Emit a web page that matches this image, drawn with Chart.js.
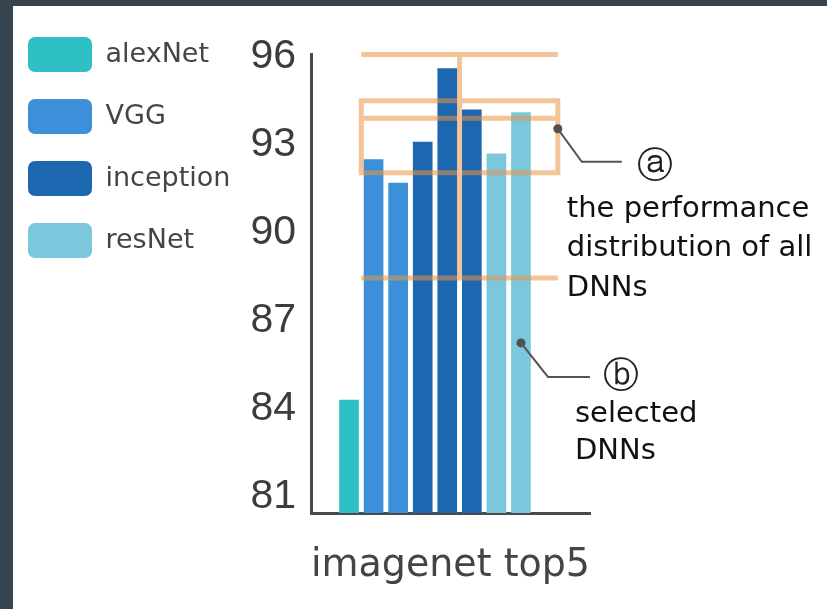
<!DOCTYPE html>
<html><head><meta charset="utf-8">
<script src="https://cdn.jsdelivr.net/npm/chart.js@4/dist/chart.umd.min.js"></script>
<style>
html,body{margin:0;padding:0;background:#36454f;width:827px;height:609px;overflow:hidden}
#wrap{position:absolute;left:13px;top:6px;width:814px;height:603px;background:#fff}
canvas{display:block}
</style></head><body>
<div id="wrap"><canvas id="c" width="814" height="603"></canvas></div>
<script>
// ---- data ----
const seriesNames = ['alexNet', 'VGG', 'inception', 'resNet'];
const alexNetTop5 = [84.3];
const vggTop5 = [92.5, 91.7];
const inceptionTop5 = [93.1, 95.6, 94.2];
const resNetTop5 = [92.7, 94.1];
const yTicks = [81, 84, 87, 90, 93, 96];
const axisTitle = 'imagenet top5';
// performance distribution of all DNNs: [min, q1, median, q3, max]
const allDnnDistribution = [88.46, 92.05, 93.91, 94.51, 96.08];
const noteAText = ['the performance', 'distribution of all', 'DNNs'];
const noteBText = ['selected', 'DNNs'];

// ---- build ----
const groups = [alexNetTop5, vggTop5, inceptionTop5, resNetTop5];
const colors = ['#2ec0c5', '#3b90d9', '#1c67b0', '#7bc7dc'];
let pos = 0;
const datasets = groups.map((vals, i) => ({
  label: seriesNames[i],
  data: vals.map(v => ({ x: ++pos, y: v })),
  backgroundColor: colors[i],
  borderWidth: 0,
  barThickness: 19,
  grouped: false
}));

const distPlugin = {
  id: 'dist',
  afterDatasetsDraw(chart, args, o) {
    const { ctx, scales: { x, y } } = chart;
    const [mn, q1, md, q3, mx] = allDnnDistribution;
    const xl = x.getPixelForValue(o.from), xr = x.getPixelForValue(o.to), xc = x.getPixelForValue((o.from + o.to) / 2);
    const Y = v => y.getPixelForValue(v);
    ctx.save();
    ctx.strokeStyle = 'rgba(235,147,70,0.55)';
    ctx.lineWidth = 5;
    ctx.beginPath();
    ctx.moveTo(xl, Y(mx)); ctx.lineTo(xr, Y(mx));
    ctx.moveTo(xl, Y(mn)); ctx.lineTo(xr, Y(mn));
    ctx.moveTo(xc, Y(mx)); ctx.lineTo(xc, Y(mn));
    ctx.rect(xl, Y(q3), xr - xl, Y(q1) - Y(q3));
    ctx.moveTo(xl, Y(md)); ctx.lineTo(xr, Y(md));
    ctx.stroke();
    ctx.restore();

    // annotations
    const drawNote = (ax, ay, n, letter, lines) => {
      ctx.save();
      ctx.strokeStyle = '#555'; ctx.fillStyle = '#505050'; ctx.lineWidth = 2;
      ctx.beginPath(); ctx.arc(ax, ay, 4.5, 0, Math.PI * 2); ctx.fill();
      ctx.beginPath(); ctx.moveTo(ax, ay); ctx.lineTo(ax + n.kx, ay + n.ky); ctx.lineTo(ax + n.ex, ay + n.ky); ctx.stroke();
      ctx.fillStyle = '#222';
      ctx.font = '36px "DejaVu Serif", "DejaVu Sans"';
      ctx.textAlign = 'center'; ctx.textBaseline = 'middle';
      ctx.fillText(letter, ax + n.lx, ay + n.ly);
      ctx.fillStyle = '#111';
      ctx.font = '29px "DejaVu Sans"';
      ctx.textAlign = 'left'; ctx.textBaseline = 'alphabetic';
      lines.forEach((t, i) => ctx.fillText(t, ax + n.tx, ay + n.ty + i * n.lh));
      ctx.restore();
    };
    const a = o.noteA, b = o.noteB;
    drawNote(x.getPixelForValue(a.x), Y(a.y), a, '\u24D0', noteAText);
    drawNote(x.getPixelForValue(b.x), Y(b.y), b, '\u24D1', noteBText);
  }
};

new Chart(document.getElementById('c'), {
  type: 'bar',
  data: { datasets },
  plugins: [distPlugin],
  options: {
    responsive: false,
    animation: false,
    events: [],
    layout: { padding: { left: -12, top: 4, right: 237, bottom: 0 } },
    scales: {
      x: {
        type: 'linear',
        min: -0.547, max: 10.81,
        grid: { display: false, drawTicks: false },
        border: { display: true, color: '#4a4a4a', width: 3 },
        ticks: { display: false },
        afterBuildTicks: s => { s.ticks = []; },
        afterFit: s => { s.height = 96; s.paddingLeft = 0; s.paddingRight = 0; },
        title: {
          display: true, text: axisTitle, color: '#444',
          font: { family: '"DejaVu Sans"', size: 39 },
          padding: { top: 0, bottom: 20 }
        }
      },
      y: {
        type: 'linear',
        min: 80.45, max: 96.1,
        grid: { display: false, drawTicks: false },
        border: { display: true, color: '#4a4a4a', width: 3 },
        afterBuildTicks: s => { s.ticks = yTicks.map(v => ({ value: v })); },
        ticks: { color: '#3c3c3c', padding: 15, font: { family: '"Liberation Sans", Arial', size: 41 } },
        afterFit: s => {
          const lw = (s.chart.legend && s.chart.legend.width) || 0;
          s.width = 310 - lw;
          s.paddingTop = 48; s.paddingBottom = 0;
        }
      }
    },
    plugins: {
      tooltip: { enabled: false },
      legend: {
        position: 'left', align: 'start',
        maxWidth: 260,
        labels: {
          boxWidth: 64, boxHeight: 35, padding: 27,
          useBorderRadius: true, borderRadius: 7,
          color: '#454545',
          font: { family: '"DejaVu Sans"', size: 27 }
        }
      },
      dist: {
        from: 1.5, to: 9.5,
        noteA: { x: 9.5, y: 93.55, kx: 24, ky: 33, ex: 64, lx: 97, ly: 39, tx: 9, ty: 88, lh: 39.5 },
        noteB: { x: 8, y: 86.25, kx: 27, ky: 34, ex: 69, lx: 100, ly: 35, tx: 54, ty: 79, lh: 37 }
      }
    }
  }
});
</script>
</body></html>
